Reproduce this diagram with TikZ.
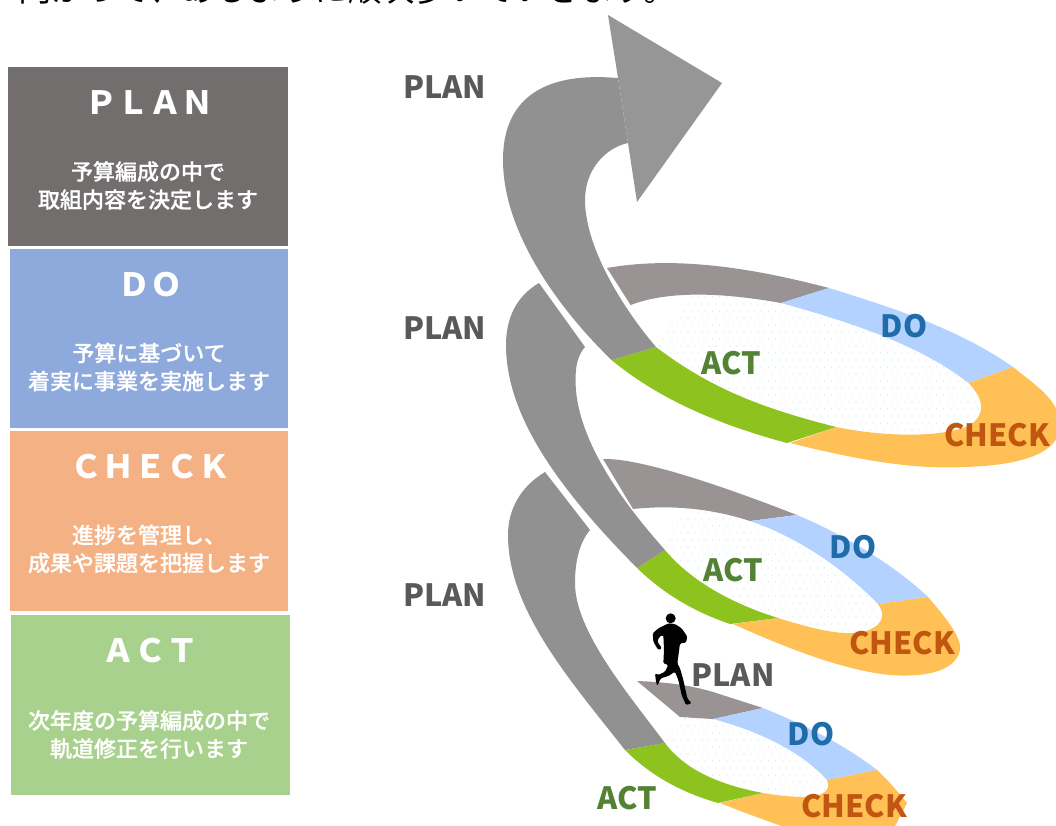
\documentclass[tikz,border=0pt]{standalone}
\usepackage{fontspec}
\newfontfamily\cjk{Noto Sans CJK JP}
\newfontfamily\cjkm[FakeBold=0.6]{Noto Sans CJK JP Medium}
\definecolor{cplan}{HTML}{736E6E}
\definecolor{cdo}{HTML}{8EA9DB}
\definecolor{ccheck}{HTML}{F4B183}
\definecolor{cact}{HTML}{A9D18E}
\definecolor{shaft}{HTML}{919191}
\definecolor{headgray}{HTML}{969696}
\definecolor{ringgray}{HTML}{9A9393}
\definecolor{ringgreen}{HTML}{8DC21F}
\definecolor{ringorange}{HTML}{FFC055}
\definecolor{ringblue}{HTML}{B4D2FF}
\definecolor{tplan}{HTML}{595959}
\definecolor{tact}{HTML}{548235}
\definecolor{tdo}{HTML}{1F6CA8}
\definecolor{tcheck}{HTML}{C0560F}
\definecolor{dotblue}{HTML}{BFE2F7}
\tikzset{
  boxtitle/.style={text=white,inner sep=0pt,font=\cjk\bfseries\fontsize{24}{28}\selectfont},
  boxbody/.style={text=white,inner sep=0pt,align=center,font=\cjkm\fontsize{16.5}{21}\selectfont},
  lab/.style={inner sep=0pt,font=\cjk\bfseries\fontsize{23}{27}\selectfont},
  dotmark/.style={fill=dotblue}
}
\begin{document}
\begin{tikzpicture}[x=0.75pt,y=-0.75pt]
\useasboundingbox (0,0) rectangle (1056,825);
\clip (0,0) rectangle (1056,825);
% cut-off line at the top
\node[anchor=base west,inner sep=0pt,font=\cjk\fontsize{25}{30}\selectfont] (topline) at (18,1.5) {向かって、あるように順次歩いていきます。};
% left boxes
\fill[cplan] (8,67) rectangle (288,246);
\fill[cdo] (10,249) rectangle (288,428);
\fill[ccheck] (10,431) rectangle (288,611);
\fill[cact] (11,615) rectangle (290,795);
\node[boxtitle] (t1) at (149,103) {ＰＬＡＮ};
\node[boxbody] (b1) at (148,185.5) {予算編成の中で\\取組内容を決定します};
\node[boxtitle] (t2) at (150,285) {ＤＯ};
\node[boxbody] (b2) at (149,367) {予算に基づいて\\着実に事業を実施します};
\node[boxtitle] (t3) at (150,467) {ＣＨＥＣＫ};
\node[boxbody] (b3) at (149,549) {進捗を管理し、\\成果や課題を把握します};
\node[boxtitle] (t4) at (150,651) {ＡＣＴ};
\node[boxbody] (b4) at (149,734.5) {次年度の予算編成の中で\\軌道修正を行います};
% lowest ring
\begin{scope}
\clip (665,743) .. controls (685,770) and (720,785) .. (763,793) .. controls (775,795) and (790,797) .. (805,797) .. controls (822,797) and (832,790) .. (827,780) .. controls (800,750) and (755,730) .. (713,719) -- (680,717) -- cycle;
\foreach \i in {0,...,26}{\foreach \j in {0,...,13}{
  \fill[dotmark] ({660+\i*7+mod(\j,2)*3.5},{712+\j*7}) circle (0.7);}}
\end{scope}
\fill[ringgray] (637,681) .. controls (665,682) and (690,685) .. (713,692) -- (763,708) -- (713,719) -- (680,717) -- cycle;
\fill[ringblue] (763,708) .. controls (805,725) and (845,745) .. (877,770) -- (827,780) .. controls (800,750) and (755,730) .. (713,719) -- cycle;
\fill[ringorange] (720,803) .. controls (745,813) and (770,822) .. (793,830) -- (893,830) -- (907,803) .. controls (898,792) and (888,780) .. (877,770) -- (827,780) .. controls (832,790) and (822,797) .. (805,797) .. controls (790,797) and (775,795) .. (763,793) -- cycle;
\fill[ringgreen] (625,750) .. controls (650,775) and (680,792) .. (718,803) -- (763,793) .. controls (720,785) and (685,770) .. (665,743) -- cycle;
\fill[shaft] (545,472) .. controls (520,487) and (508,510) .. (508,535) .. controls (508,610) and (570,680) .. (625,750) -- (665,743) .. controls (625,690) and (575,630) .. (575,583) .. controls (575,560) and (580,542) .. (590,530) -- cycle;
% middle ring
\begin{scope}
\clip (665,550) .. controls (690,580) and (730,603) .. (778,618) .. controls (810,628) and (835,634) .. (853,633) .. controls (875,632) and (890,620) .. (878,604) .. controls (845,570) and (800,538) .. (750,521) .. controls (725,513) and (700,508) .. (680,508) -- cycle;
\foreach \i in {0,...,33}{\foreach \j in {0,...,18}{
  \fill[dotmark] ({660+\i*7+mod(\j,2)*3.5},{505+\j*7}) circle (0.7);}}
\end{scope}
\fill[ringgray] (603,459) .. controls (640,458) and (720,485) .. (797,515) -- (750,521) .. controls (710,508) and (670,505) .. (633,509) -- cycle;
\fill[ringblue] (797,515) .. controls (850,537) and (900,570) .. (928,597) -- (878,604) .. controls (845,570) and (800,538) .. (750,521) -- cycle;
\fill[ringorange] (928,597) .. controls (950,622) and (962,640) .. (960,650) .. controls (955,675) and (915,677) .. (890,675) .. controls (840,670) and (780,645) .. (733,624) -- (778,618) .. controls (810,628) and (835,634) .. (853,633) .. controls (875,632) and (890,620) .. (878,604) -- cycle;
\fill[ringgreen] (637,568) .. controls (665,595) and (695,612) .. (730,624) -- (778,618) .. controls (730,603) and (690,580) .. (665,550) -- cycle;
\fill[shaft] (539,283) .. controls (515,297) and (506,320) .. (506,345) .. controls (506,420) and (565,495) .. (637,568) -- (665,550) .. controls (625,505) and (575.5,440) .. (575.5,380) .. controls (575.5,365) and (578,355) .. (585,347) -- cycle;
% top ring
\begin{scope}
\clip (656,347) .. controls (715,392) and (770,410) .. (836,427) .. controls (890,438) and (945,437) .. (970,425) .. controls (985,415) and (985,400) .. (968.6,383) .. controls (920,345) and (850,322) .. (781,303) .. controls (750,297) and (710,293) .. (690,295) -- cycle;
\foreach \i in {0,...,45}{\foreach \j in {0,...,21}{
  \fill[dotmark] ({660+\i*7+mod(\j,2)*3.5},{290+\j*7}) circle (0.7);}}
\end{scope}
\fill[ringgray] (607,268) .. controls (680,255) and (760,270) .. (829,288) -- (781,303) .. controls (725,293) and (670,290) .. (630.6,305) -- cycle;
\fill[ringblue] (829,288) .. controls (900,310) and (960,330) .. (1013,367) -- (968.6,383) .. controls (920,345) and (850,322) .. (781,303) -- cycle;
\fill[ringorange] (790,443) .. controls (850,458) and (910,470) .. (965,467) .. controls (1030,465) and (1060,450) .. (1060,425) .. controls (1060,400) and (1035,385) .. (1013,367) -- (968.6,383) .. controls (985,400) and (985,415) .. (970,425) .. controls (945,437) and (890,438) .. (836,427) -- cycle;
\fill[ringgreen] (611.5,360) .. controls (660,400) and (720,425) .. (787,443) -- (836,427) .. controls (770,410) and (715,392) .. (656,347) -- cycle;
% big arrow
\fill[shaft] (618,78) .. controls (590,76) and (503,70) .. (503,160) .. controls (503,230) and (555,305) .. (611.5,360) -- (656,347) .. controls (620,305) and (585,245) .. (585,200) .. controls (585,170) and (605,148) .. (628,143) -- cycle;
\fill[headgray] (608,15) -- (722,83) -- (637,202) -- (628,143) -- (618,78) -- cycle;
% runner
\begin{scope}[shift={(600,600)},x=0.25pt,y=-0.25pt]
\fill[black,rounded corners=1pt] (205,70) -- (175,85) -- (158,100) -- (160,125) -- (175,150) -- (186,145) -- (172,125) -- (178,110) -- (190,105) -- (192,150) -- (190,190) -- (205,195) -- (195,215) -- (175,225) -- (165,220) -- (168,245) -- (172,258) -- (182,235) -- (205,228) -- (225,215) -- (235,240) -- (245,285) -- (258,315) -- (275,310) -- (262,295) -- (250,240) -- (240,205) -- (232,190) -- (240,130) -- (258,128) -- (262,110) -- (245,85) -- (225,72) -- cycle;
\fill[black] (212,55) circle (15);
\end{scope}
% labels
\node[lab,text=tplan] (p1) at (444.5,87) {PLAN};
\node[lab,text=tplan] (p2) at (444.5,328) {PLAN};
\node[lab,text=tplan] (p3) at (444.5,595) {PLAN};
\node[lab,text=tplan] (p4) at (733,675) {PLAN};
\node[lab,text=tact] (a1) at (731,363) {ACT};
\node[lab,text=tact] (a2) at (733,570) {ACT};
\node[lab,text=tact] (a3) at (627,798) {ACT};
\node[lab,text=tdo] (d1) at (904,326) {DO};
\node[lab,text=tdo] (d2) at (853,547) {DO};
\node[lab,text=tdo] (d3) at (811,734) {DO};
\node[lab,text=tcheck] (c1) at (997,435) {CHECK};
\node[lab,text=tcheck] (c2) at (902,643) {CHECK};
\node[lab,text=tcheck] (c3) at (854,806) {CHECK};
\end{tikzpicture}
\end{document}
